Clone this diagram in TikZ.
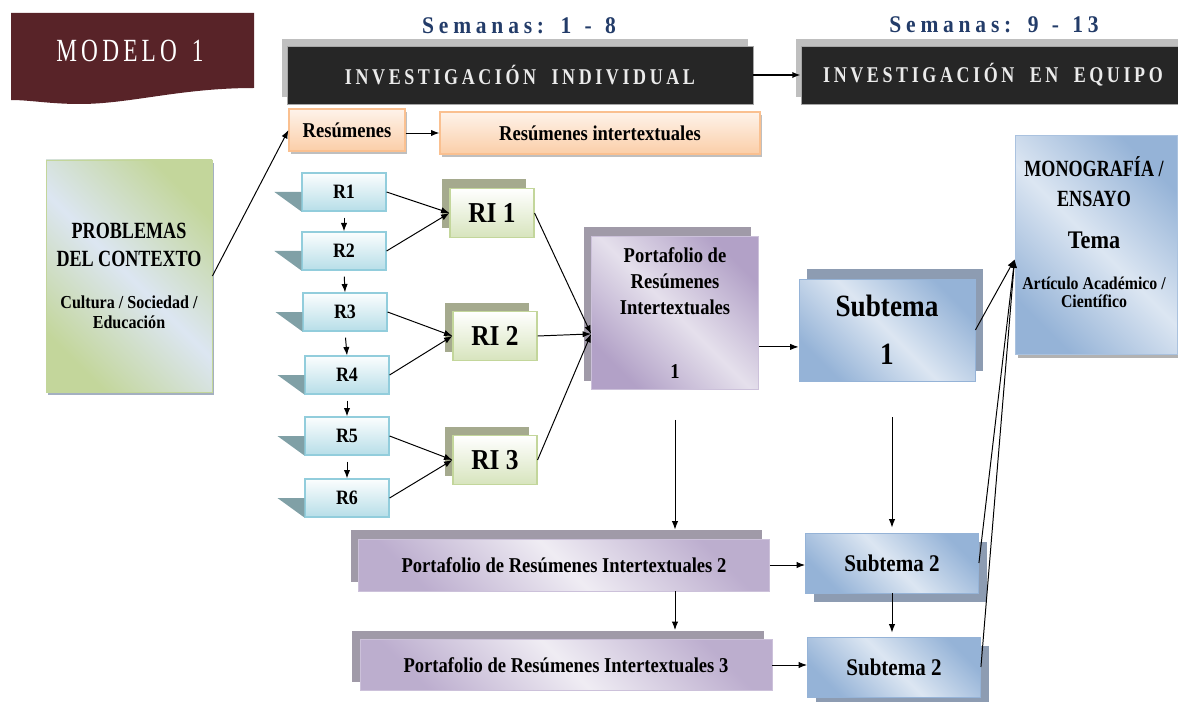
\documentclass[tikz,border=0pt]{standalone}
\usepackage{fontspec}
\setmainfont{Liberation Serif}[FakeStretch=0.88]
\newfontfamily\capsfont{Liberation Serif}[FakeStretch=0.78]
\newfontfamily\headfont{Liberation Serif}[FakeStretch=0.8,LetterSpace=16,WordSpace=1.9]
\newfontfamily\weekfont{Liberation Serif}[FakeStretch=0.9,LetterSpace=20,WordSpace=1.3]
\newfontfamily\modelfont{Liberation Serif}[FakeStretch=0.72,LetterSpace=13,WordSpace=1.5]
\usetikzlibrary{arrows.meta,calc,shadows}

\newlength\px \setlength\px{0.025cm}

\definecolor{modelored}{RGB}{88,35,40}
\definecolor{hdrdark}{RGB}{38,38,38}
\definecolor{hdrshadow}{RGB}{191,191,191}
\definecolor{weekblue}{RGB}{35,60,105}
\definecolor{orangeedge}{RGB}{250,192,144}
\definecolor{orangetop}{RGB}{254,243,234}
\definecolor{orangefill}{RGB}{251,206,168}
\definecolor{rblue}{RGB}{183,222,232}
\definecolor{rbluedge}{RGB}{146,205,220}
\definecolor{rtri}{RGB}{128,160,166}
\definecolor{rigreen}{RGB}{215,228,189}
\definecolor{riedge}{RGB}{195,214,155}
\definecolor{rishadow}{RGB}{165,170,142}
\definecolor{pviolet}{RGB}{178,161,199}
\definecolor{plight}{RGB}{229,224,236}
\definecolor{pedge}{RGB}{204,193,218}
\definecolor{pshadow}{RGB}{160,154,168}
\definecolor{sblue}{RGB}{149,179,215}
\definecolor{slight}{RGB}{220,230,242}
\definecolor{sshadow}{RGB}{141,156,178}
\definecolor{cgreen}{RGB}{195,214,155}

\tikzset{
	conn/.style={->, line width=0.7pt},
	diag/.style 2 args={top color=#1, bottom color=#1, middle color=#2, shading angle=-45},
	hdrbox/.style={fill=hdrdark, draw=gray!70, line width=0.4pt, text=white!92!black,
			font=\headfont\bfseries\fontsize{16}{19}\selectfont, minimum height=58\px, inner sep=0pt,
			copy shadow={shadow xshift=-5\px, shadow yshift=7\px, fill=hdrshadow, draw=none}},
	weeklbl/.style={text=weekblue, font=\weekfont\bfseries\fontsize{17}{20}\selectfont},
	orbox/.style={top color=orangetop, bottom color=orangefill, draw=orangeedge, line width=0.8pt,
			minimum height=42\px, inner sep=0pt, font=\bfseries\fontsize{15}{18}\selectfont,
			copy shadow={shadow xshift=2\px, shadow yshift=-3\px, fill=black!25, draw=none}},
	rbox/.style={top color=white!95!rblue, bottom color=rblue, draw=rbluedge, line width=0.8pt,
			minimum width=84\px, minimum height=38\px, inner sep=0pt, font=\bfseries\fontsize{14.5}{17}\selectfont},
	ribox/.style={top color=white, bottom color=rigreen, draw=riedge, line width=0.8pt,
			minimum width=84\px, minimum height=49\px, inner sep=0pt, font=\bfseries\fontsize{20.5}{24}\selectfont,
			copy shadow={shadow xshift=-8\px, shadow yshift=9\px, fill=rishadow, draw=none}},
	pfbox/.style={diag={pviolet}{plight}, draw=pedge, line width=0.6pt, inner sep=0pt, align=center,
			font=\bfseries\fontsize{15}{18.5}\selectfont,
			copy shadow={shadow xshift=-8\px, shadow yshift=9\px, fill=pshadow, draw=none}},
	pfwide/.style={diag={pviolet!80!plight}{plight!60!white}},
	subbox/.style={diag={sblue}{slight}, draw=sblue, line width=0.6pt, inner sep=0pt, align=center,
			font=\bfseries\fontsize{17}{20}\selectfont},
	subdown/.style={copy shadow={shadow xshift=8\px, shadow yshift=-9\px, fill=sshadow, draw=none}}
}

\begin{document}
\begin{tikzpicture}[x=1\px, y=-1\px, >={Latex[length=6pt,width=4.5pt]}]
		\useasboundingbox (0,0) rectangle (1178,702);

		% Title banner
		\fill[modelored] (11,13) -- (254,13) -- (254,88) .. controls (180,88) and (130,104) .. (80,104)
		.. controls (50,104) and (30,100) .. (11,100) -- cycle;
		\node[text=white, font=\modelfont\fontsize{23}{27}\selectfont] (modelo) at (130,51) {MODELO 1};

		% Weeks and stage headers
		\node[weeklbl] (week1) at (519,26) {Semanas: 1 - 8};
		\node[weeklbl] (week2) at (994,25) {Semanas: 9 - 13};
		\node[hdrbox, minimum width=466\px] (indiv) at (520,75) {INVESTIGACIÓN INDIVIDUAL};
		\node[hdrbox, minimum width=384\px] (equipo) at (993,75) {INVESTIGACIÓN EN EQUIPO};
		\draw[->, line width=1.8pt] (indiv) -- (equipo);

		% Summaries
		\node[orbox, minimum width=116\px] (res) at (347,130) {Resúmenes};
		\node[orbox, minimum width=320\px] (resint) at (600,133) {Resúmenes intertextuales};
		\draw[conn] (res.east |- resint.west) -- (resint.west);

		% Context
		\node[diag={cgreen}{slight}, draw=cgreen, line width=0.6pt, minimum width=166\px, minimum height=232\px,
			inner sep=0pt, align=center, font=\bfseries\fontsize{13}{14}\selectfont,
			copy shadow={shadow xshift=2\px, shadow yshift=-3\px, fill=sshadow!80, draw=none}] (ctx) at (129,276)
		{{\capsfont\fontsize{16.5}{20}\selectfont PROBLEMAS}\\[6pt]{\capsfont\fontsize{16.5}{20}\selectfont DEL CONTEXTO}\\[16pt]
			Cultura / Sociedad /\\Educación};
		\draw[conn] (ctx.east) -- (res.west);

		% R boxes
		\foreach \i/\x/\y in {1/344/192,2/344/251,3/345/312,4/347/375,5/347/436,6/347/498}
		\node[rbox] (R\i) at (\x,\y) {R\i};
		\foreach \i in {1,...,6}
		\fill[rtri] (R\i.south west) -- (R\i.west) -- ++(-27,0) -- cycle;
		\foreach \i/\j in {1/2,2/3,3/4,4/5,5/6}
		\draw[conn, shorten <=6\px] (R\i.south) -- (R\j.north);

		% RI boxes
		\node[ribox] (RI1) at (492,213) {RI 1};
		\node[ribox] (RI2) at (495,336) {RI 2};
		\node[ribox] (RI3) at (495,460) {RI 3};
		\foreach \r/\t in {1/1,2/1,3/2,4/2,5/3,6/3}
		\draw[conn] (R\r.east) -- (RI\t.west);

		% Portfolios
		\node[pfbox, minimum width=167\px, minimum height=153\px] (port1) at (675,313)
		{Portafolio de\\Resúmenes\\Intertextuales\\[27pt]1};
		\foreach \k in {1,2,3}
		\draw[conn] (RI\k.east) -- (port1.194);
		\node[pfbox, pfwide, minimum width=411\px, minimum height=52\px] (port2) at (564,565) {Portafolio de Resúmenes Intertextuales 2};
		\node[pfbox, pfwide, minimum width=412\px, minimum height=51\px] (port3) at (566,665) {Portafolio de Resúmenes Intertextuales 3};

		% Subtopics
		\node[subbox, minimum width=176\px, minimum height=102\px, font=\bfseries\fontsize{22}{26}\selectfont,
			copy shadow={shadow xshift=8\px, shadow yshift=10\px, fill=sshadow, draw=none}] (sub1) at (887,330) {Subtema\\[8pt]1};
		\node[subbox, subdown, minimum width=173\px, minimum height=60\px] (sub2a) at (892,563) {Subtema 2};
		\node[subbox, subdown, minimum width=173\px, minimum height=60\px] (sub2b) at (894,667) {Subtema 2};

		\draw[conn] (port1.-22) -- (port1.-22 -| sub1.west);
		\draw[conn] (port2.east) -- (port2.east -| sub2a.west);
		\draw[conn] (port3.east) -- (port3.east -| sub2b.west);
		\draw[conn, shorten <=30\px, shorten >=9\px] (port1.south) -- (port1.south |- port2.north);
		\draw[conn, shorten >=9\px] (port1.south |- port2.south) -- (port1.south |- port3.north);
		\draw[conn, shorten <=36\px, shorten >=5\px] (sub2a.north |- sub1.south) -- (sub2a.north);
		\draw[conn, shorten >=4\px] (sub2a.south) -- (sub2a.south |- sub2b.north);

		% Final product
		\node[diag={sblue}{slight}, draw=sblue!80, line width=0.6pt, minimum width=162\px, minimum height=219\px,
			copy shadow={shadow xshift=3\px, shadow yshift=-3\px, fill=black!30, draw=none}] (mono) at (1096,245) {};
		\node[align=center, font=\bfseries\fontsize{12.8}{12.8}\selectfont] (monotxt) at (1094,232)
		{{\capsfont\fontsize{16.5}{20}\selectfont MONOGRAFÍA /}\\[8.5pt]{\capsfont\fontsize{16.5}{20}\selectfont ENSAYO}\\[17pt]
			{\fontsize{18}{20}\selectfont Tema}\\[16pt]Artículo Académico /\\Científico};
		\foreach \s in {sub1,sub2a,sub2b}
		\draw[conn] (\s.east) -- (mono.190);
	\end{tikzpicture}
\end{document}
